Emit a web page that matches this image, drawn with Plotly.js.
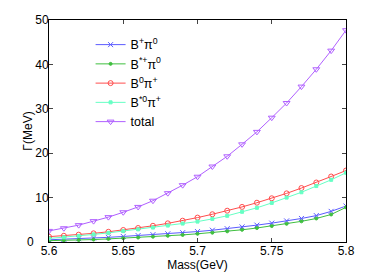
<!DOCTYPE html>
<html><head><meta charset="utf-8">
<script src="https://cdn.plot.ly/plotly-3.0.1.min.js"></script>
<style>html,body{margin:0;padding:0;background:#fff}</style>
</head><body><div id="c" style="width:382px;height:273px"></div>
<script>
const mass = [5.60,5.61,5.62,5.63,5.64,5.65,5.66,5.67,5.68,5.69,5.70,5.71,5.72,5.73,5.74,5.75,5.76,5.77,5.78,5.79,5.80];
const bPlusPi0 = [0.5,0.6,0.75,0.9,1.05,1.25,1.45,1.65,1.85,2.1,2.35,2.65,3.0,3.4,3.8,4.25,4.75,5.3,5.95,6.9,8.1];
const bStarPlusPi0 = [0.3,0.35,0.45,0.55,0.7,0.85,1.0,1.2,1.4,1.6,1.85,2.1,2.4,2.75,3.15,3.6,4.1,4.65,5.3,6.2,7.8];
const b0PiPlus = [1.2,1.4,1.65,1.95,2.3,2.7,3.15,3.65,4.2,4.8,5.5,6.25,7.05,7.9,8.85,9.85,10.95,12.15,13.4,14.75,16.1];
const bStar0PiPlus = [0.8,1.05,1.35,1.7,2.05,2.45,2.85,3.25,3.7,4.15,4.6,5.2,5.9,6.8,7.7,8.8,10.0,11.2,12.6,14.0,15.6];
const total = [2.5,3.1,3.8,4.7,5.6,6.7,7.9,9.3,11.0,12.8,14.7,17.0,19.3,22.0,24.8,28.0,31.3,35.0,38.9,43.1,47.7];
const names = ['B<sup>+</sup>π<sup>0</sup>','B<sup>*+</sup>π<sup>0</sup>','B<sup>0</sup>π<sup>+</sup>','B<sup>*0</sup>π<sup>+</sup>','total'];
const xTicks = [5.6,5.65,5.7,5.75,5.8];
const yTicks = [0,10,20,30,40,50];
const yTickText = ['','10','20','30','40','50'];
const yZeroLabel = '0';

const series = [bPlusPi0,bStarPlusPi0,b0PiPlus,bStar0PiPlus,total];
const colors = ['#5b5bff','#3fbf3f','#ff4d4d','#66ffc4','#b060ff'];
const syms = ['x-thin-open','circle','circle-open','square','triangle-down-open'];
const sizes = [5,3,5,3,6];
const traces = series.map((y,i)=>({
  x: mass, y: y, name: names[i], type:'scatter', mode:'lines+markers',
  line:{color:colors[i], width:1},
  marker:{symbol:syms[i], size:sizes[i], color:colors[i], line:{color:colors[i], width:1}}
}));
const layout = {
  width:382, height:273,
  margin:{l:49, r:36, t:20, b:31},
  paper_bgcolor:'#fff', plot_bgcolor:'#fff',
  font:{family:'Liberation Sans, Arial, sans-serif', size:12, color:'#000'},
  showlegend:true,
  legend:{x:0.14, y:0.955, xanchor:'left', yanchor:'top', bgcolor:'rgba(255,255,255,0)', borderwidth:0, font:{size:12.5}, tracegroupgap:0},
  xaxis:{range:[5.6,5.8], tickvals:xTicks, ticktext:xTicks.map(v=>String(v)), ticks:'inside', ticklen:4, ticklabelstandoff:-2, showline:true, mirror:'allticks', linecolor:'#000', linewidth:1, showgrid:false, zeroline:false,
    title:{text:'Mass(GeV)', font:{size:12}, standoff:0}},
  yaxis:{range:[0,50], tickvals:yTicks, ticktext:yTickText, ticks:'inside', ticklen:4, ticklabelstandoff:-3, showline:true, mirror:'allticks', linecolor:'#000', linewidth:1, showgrid:false, zeroline:false,
    title:{text:'Γ(MeV)', font:{size:12}, standoff:0}},
  annotations:[{text:yZeroLabel, xref:'paper', yref:'y', x:0, y:yTicks[0], xanchor:'right', yanchor:'middle', xshift:-13, showarrow:false, font:{size:12}}]
};
Plotly.newPlot('c', traces, layout, {displayModeBar:false, staticPlot:true});
</script></body></html>
